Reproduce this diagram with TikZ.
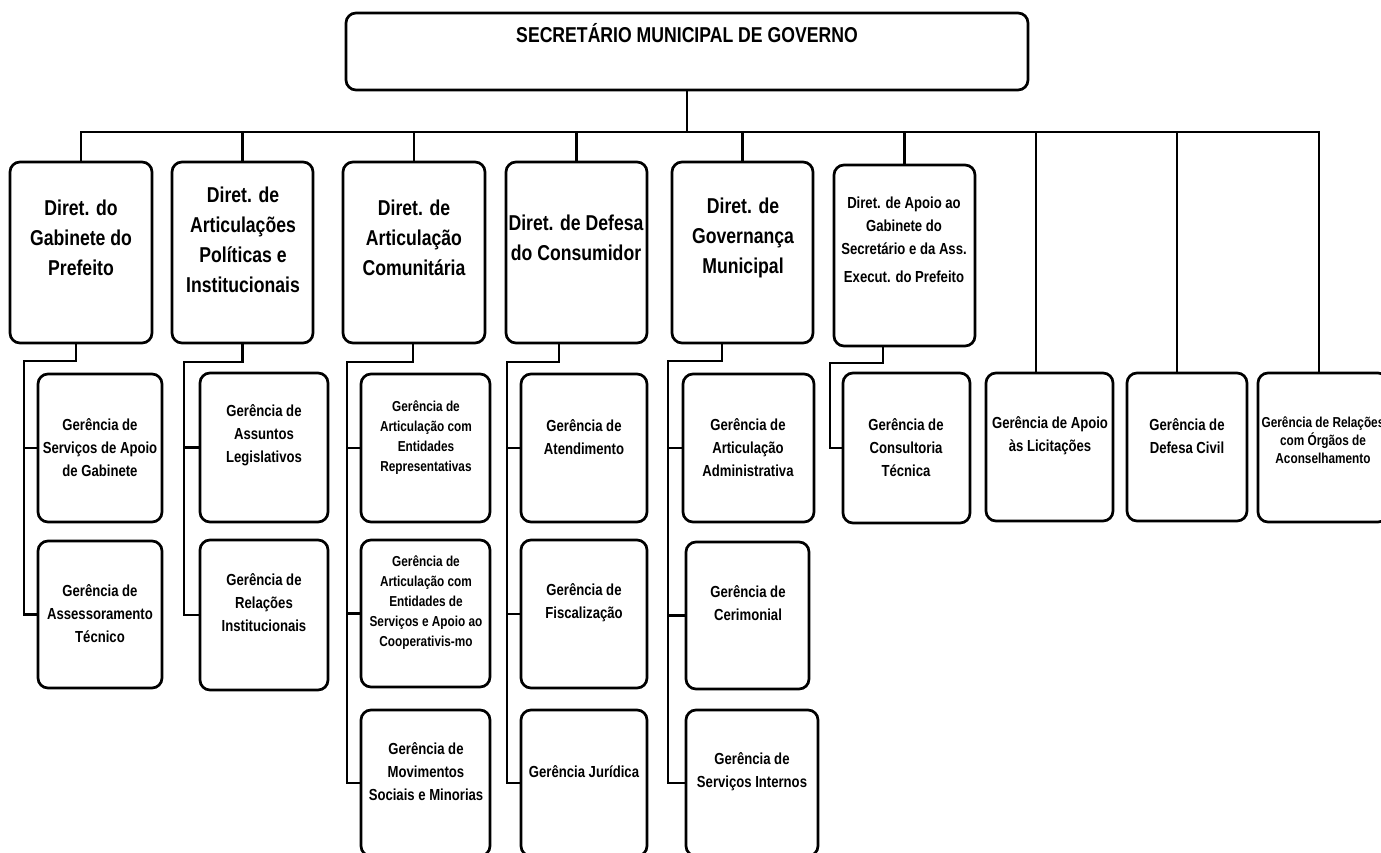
\documentclass[tikz,border=0pt]{standalone}
\usepackage{fontspec}
\setmainfont{Liberation Sans}[FakeStretch=0.82]
\tikzset{
  box/.style={draw, line width=2.7pt, rounded corners=10pt, inner sep=0pt, outer sep=0pt, anchor=north west},
  conn/.style={line width=2.7pt, line join=miter},
  txt/.style={align=center, inner sep=0pt, text=black},
  ttl/.style={txt, font=\fontsize{21.5}{24}\selectfont\bfseries},
  big/.style={txt, font=\fontsize{21.5}{30}\selectfont\bfseries},
  med/.style={txt, font=\fontsize{16}{23}\selectfont\bfseries},
  sml/.style={txt, font=\fontsize{14.4}{20}\selectfont\bfseries},
}
\newcommand\mybox[5]{\node[box, minimum width={(#4)-(#2)}, minimum height={(#5)-(#3)}] (#1) at (#2,#3) {};}
\begin{document}
\begin{tikzpicture}[x=1pt,y=-1pt]
\fill[white] (0,0) rectangle (1381,853);
\useasboundingbox (0,0) rectangle (1381,853);
% top
\mybox{top}{346}{13}{1028}{90}
\node[ttl] (topt) at (687,33) {SECRETÁRIO MUNICIPAL DE GOVERNO};
% directorates
\mybox{d1}{10}{162}{152}{343}
\mybox{d2}{172}{162}{313}{343}
\mybox{d3}{343}{162}{485}{343}
\mybox{d4}{506}{162}{647}{343}
\mybox{d5}{672}{162}{813}{343}
\mybox{d6}{834}{165}{975}{346}
\node[big] (d1t) at (81,238) {Diret. do\\Gabinete do\\Prefeito};
\node[big] (d2t) at (243,240) {Diret. de\\Articulações\\Políticas e\\Institucionais};
\node[big] (d3t) at (414,238) {Diret. de\\Articulação\\Comunitária};
\node[big] (d4t) at (576,238) {Diret. de Defesa\\do Consumidor};
\node[big] (d5t) at (743,238) {Diret. de\\Governança\\Municipal};
\node[med] (d6t) at (904,240) {Diret. de Apoio ao\\Gabinete do\\Secretário e da Ass.\\[5pt]Execut. do Prefeito};
% col 1
\mybox{s11}{38}{374}{162}{522}
\mybox{s12}{38}{541}{162}{688}
\node[med] (s11t) at (100,448) {Gerência de\\Serviços de Apoio\\de Gabinete};
\node[med] (s12t) at (100,614) {Gerência de\\Assessoramento\\Técnico};
% col 2
\mybox{s21}{200}{373}{328}{522}
\mybox{s22}{200}{540}{328}{690}
\node[med] (s21t) at (264,435) {Gerência de\\Assuntos\\Legislativos};
\node[med] (s22t) at (264,603) {Gerência de\\Relações\\Institucionais};
% col 3
\mybox{s31}{361}{374}{490}{522}
\mybox{s32}{361}{540}{490}{687}
\mybox{s33}{361}{710}{490}{856}
\node[sml] (s31t) at (426,438) {Gerência de\\Articulação com\\Entidades\\Representativas};
\node[sml] (s32t) at (426,603) {Gerência de\\Articulação com\\Entidades de\\Serviços e Apoio ao\\Cooperativis-mo};
\node[med] (s33t) at (426,772) {Gerência de\\Movimentos\\Sociais e Minorias};
% col 4
\mybox{s41}{521}{374}{647}{522}
\mybox{s42}{521}{540}{647}{688}
\mybox{s43}{521}{710}{647}{856}
\node[med] (s41t) at (584,437) {Gerência de\\Atendimento};
\node[med] (s42t) at (584,603) {Gerência de\\Fiscalização};
\node[med] (s43t) at (584,772) {Gerência Jurídica};
% col 5
\mybox{s51}{683}{374}{814}{522}
\mybox{s52}{686}{542}{809}{689}
\mybox{s53}{686}{710}{818}{856}
\node[med] (s51t) at (748,448) {Gerência de\\Articulação\\Administrativa};
\node[med] (s52t) at (748,603) {Gerência de\\Cerimonial};
\node[med] (s53t) at (752,772) {Gerência de\\Serviços Internos};
% col 6
\mybox{s61}{843}{373}{970}{523}
\node[med] (s61t) at (906,448) {Gerência de\\Consultoria\\Técnica};
% right boxes
\mybox{ga}{986}{373}{1113}{521}
\mybox{gb}{1127}{373}{1247}{521}
\mybox{gc}{1258}{373}{1388}{522}
\node[med] (gat) at (1050,436) {Gerência de Apoio\\às Licitações};
\node[med] (gbt) at (1187,436) {Gerência de\\Defesa Civil};
\node[sml, font=\fontsize{14.4}{18}\selectfont\bfseries] (gct) at (1323,440) {Gerência de Relações\\com Órgãos de\\Aconselhamento};
% bus
\coordinate (bus) at (0,132);
\coordinate (vA) at (1036,132);
\coordinate (vB) at (1177,132);
\coordinate (vC) at (1319,132);
\draw[conn] (top.south) -- (top.south |- bus);
\draw[conn] (d1.north) -- (d1.north |- bus) -- (vC) -- (vC |- gc.north);
\foreach \d in {d2,d3,d4,d5,d6} \draw[conn] (\d.north) -- (\d.north |- bus);
\draw[conn] (vA) -- (vA |- ga.north);
\draw[conn] (vB) -- (vB |- gb.north);
% column spines
\coordinate (sp1) at (24,361);
\coordinate (sp2) at (184,362);
\coordinate (sp3) at (347,362);
\coordinate (sp4) at (507,362);
\coordinate (sp5) at (668,361);
\coordinate (sp6) at (830,363);
\draw[conn] ([xshift=-5pt]d1.south) |- (sp1) |- (s12.west);
\draw[conn] (s11.west) -- (s11.west -| sp1);
\draw[conn] (d2.south) |- (sp2) |- (s22.west);
\draw[conn] (s21.west) -- (s21.west -| sp2);
\draw[conn] ([xshift=-1pt]d3.south) |- (sp3) |- (s33.west);
\draw[conn] (s31.west) -- (s31.west -| sp3);
\draw[conn] (s32.west) -- (s32.west -| sp3);
\draw[conn] ([xshift=-17.5pt]d4.south) |- (sp4) |- (s43.west);
\draw[conn] (s41.west) -- (s41.west -| sp4);
\draw[conn] (s42.west) -- (s42.west -| sp4);
\draw[conn] ([xshift=-20.5pt]d5.south) |- (sp5) |- (s53.west);
\draw[conn] (s51.west) -- (s51.west -| sp5);
\draw[conn] (s52.west) -- (s52.west -| sp5);
\draw[conn] ([xshift=-21.5pt]d6.south) |- (sp6) |- (s61.west);
\end{tikzpicture}
\end{document}
